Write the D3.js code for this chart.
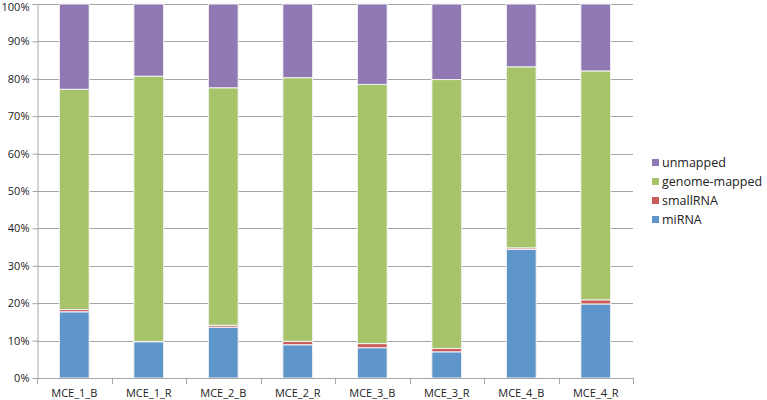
<!DOCTYPE html>
<html>
<head>
<meta charset="utf-8">
<script src="https://cdn.jsdelivr.net/npm/d3@7"></script>
<style>
  body { margin: 0; background: #fff; }
  text { font-family: "Open Sans", "Noto Sans", sans-serif; fill: #222; }
</style>
</head>
<body>
<div id="chart"></div>
<script>
// samples and layer percentages (cumulative parts of 100%)
var samples = ["MCE_1_B", "MCE_1_R", "MCE_2_B", "MCE_2_R", "MCE_3_B", "MCE_3_R", "MCE_4_B", "MCE_4_R"];
var miRNA = [17.7, 9.7, 13.6, 8.9, 8.1, 7.0, 34.4, 19.8];
var smallRNA = [0.6, 0.1, 0.5, 0.9, 1.1, 0.9, 0.4, 1.1];
var genomeMapped = [58.9, 70.9, 63.5, 70.5, 69.3, 71.9, 48.4, 61.2];
var unmapped = [22.8, 19.3, 22.4, 19.7, 21.5, 20.2, 16.8, 17.9];
var yTicks = [0, 10, 20, 30, 40, 50, 60, 70, 80, 90, 100];

var series = [
    { name: "miRNA", values: miRNA, color: "#5E96CC" },
    { name: "smallRNA", values: smallRNA, color: "#CC5C59" },
    { name: "genome-mapped", values: genomeMapped, color: "#A8C46B" },
    { name: "unmapped", values: unmapped, color: "#9079B3" }
];

var width = 767,
    height = 400;
var margin = { top: 4, left: 37, right: 134, bottom: 22 };

var svg = d3.select('#chart').append('svg')
    .attr('width', width)
    .attr('height', height);

var x = d3.scaleBand()
    .domain(samples)
    .range([margin.left, width - margin.right])
    .paddingInner(0.6)
    .paddingOuter(0.3);

var y = d3.scaleLinear()
    .domain([0, 100])
    .range([height - margin.bottom, margin.top]);

// gridlines
svg.append('g')
    .selectAll('line')
    .data(yTicks)
    .enter().append('line')
    .attr('x1', margin.left)
    .attr('x2', width - margin.right)
    .attr('y1', function(d) { return Math.round(y(d)) + 0.5; })
    .attr('y2', function(d) { return Math.round(y(d)) + 0.5; })
    .attr('stroke', '#a6a6a6')
    .attr('stroke-width', 1);

// stack data
var rows = samples.map(function(s, i) {
    var r = { sample: s };
    series.forEach(function(se) { r[se.name] = se.values[i]; });
    return r;
});
var stack = d3.stack().keys(series.map(function(s) { return s.name; }));
var layers = stack(rows);

svg.append('g')
    .selectAll('g')
    .data(layers)
    .enter().append('g')
    .attr('fill', function(d, i) { return series[i].color; })
    .selectAll('rect')
    .data(function(d) { return d; })
    .enter().append('rect')
    .attr('x', function(d) { return x(d.data.sample); })
    .attr('width', x.bandwidth())
    .attr('y', function(d) { return y(d[1]); })
    .attr('height', function(d) { return y(d[0]) - y(d[1]); })
    .attr('stroke', '#f4f4f4')
    .attr('stroke-width', 1);

// y axis
var yAxis = svg.append('g')
    .attr('transform', 'translate(' + (margin.left + 0.5) + ',0)')
    .call(d3.axisLeft(y).tickValues(yTicks).tickSize(5).tickPadding(3)
        .tickFormat(function(d) { return d + '%'; }));
yAxis.selectAll('text').style('font-size', '11px');
// top label would be clipped, nudge it down a bit
yAxis.selectAll('.tick text').filter(function(d) { return d === 100; })
    .attr('dy', '0.55em');
yAxis.selectAll('line, path').attr('stroke', '#a6a6a6');

// x axis
var xAxis = svg.append('g')
    .attr('transform', 'translate(0,' + (Math.round(y(0)) + 0.5) + ')')
    .call(d3.axisBottom(x).tickSize(0).tickPadding(11));
xAxis.selectAll('text').style('font-size', '11px');
xAxis.select('.domain').remove();

// category separator ticks
var edges = d3.range(samples.length + 1).map(function(i) {
    return margin.left + i * (width - margin.right - margin.left) / samples.length;
});
svg.append('g')
    .selectAll('line')
    .data(edges)
    .enter().append('line')
    .attr('x1', function(d) { return Math.round(d) + 0.5; })
    .attr('x2', function(d) { return Math.round(d) + 0.5; })
    .attr('y1', Math.round(y(0)))
    .attr('y2', Math.round(y(0)) + 6)
    .attr('stroke', '#a6a6a6');
svg.append('line')
    .attr('x1', margin.left)
    .attr('x2', width - margin.right)
    .attr('y1', Math.round(y(0)) + 0.5)
    .attr('y2', Math.round(y(0)) + 0.5)
    .attr('stroke', '#a6a6a6');

// legend, top to bottom reversed
var legend = svg.append('g')
    .selectAll('g')
    .data(series.slice().reverse())
    .enter().append('g')
    .attr('transform', function(d, i) { return 'translate(652,' + (163 + i * 19) + ')'; });
legend.append('rect')
    .attr('x', 0)
    .attr('y', -4)
    .attr('width', 7)
    .attr('height', 7)
    .attr('fill', function(d) { return d.color; });
legend.append('text')
    .attr('x', 10)
    .attr('y', 0)
    .attr('dy', '0.35em')
    .style('font-size', '12.5px')
    .text(function(d) { return d.name; });
</script>
</body>
</html>
